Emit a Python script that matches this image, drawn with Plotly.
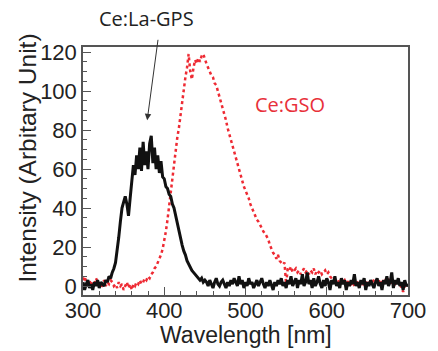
import plotly.graph_objects as go

wavelength = list(range(300, 701, 2))

la_gps = [
    2, -2, 1, 3, -1, 1, -2, 2, 0, 3,
    -1, 2, 1, 0, 3, 2, 5, 4, 7, 9,
    12, 18, 25, 33, 40, 43, 46, 42, 36, 45,
    55, 62, 57, 67, 60, 71, 59, 74, 62, 69,
    60, 73, 77, 63, 71, 60, 67, 58, 64, 56,
    55, 51, 50, 47, 46, 42, 40, 36, 33, 29,
    25, 21, 18, 16, 13, 11, 10, 8, 7, 6,
    5, 4, 3, 4, 2, 3,
    2, 0, 3, 1, -1, 2, 4, 1, 0, 2,
    3, 1, -1, 2, 0, 3, 1, 4, 2, 0,
    5, 1, 3, -1, 2, 0, 4, 1, 2, -1,
    1, 3, 0, 2, 4, 1, -1, 2, 0, 3,
    1, -2, 2, 0, 3, 1, 4, 0, 2, -1,
    3, 1, 5, 0, 2, 4, -1, 3, 1, 6,
    0, 2, 7, 1, 3, -1, 4, 0, 2, 5,
    1, -1, 3, 0, 4, 2, -2, 3, 1, 5,
    0, 2, -1, 4, 1, 3, -2, 2, 0, 3,
    1, 6, 0, 2, -1, 3, 1, 4, -2, 2,
    0, 3, 1, -1, 2, 4, 0, 2, -2, 3,
    1, 5, 0, 2, 7, -1, 3, 1, 4, 0,
    2, -2, 3, 0, 1,
]

gso = [
    3, 5, 2, 1, 3, 0, 2, 1, 4, 2,
    0, -1, 1, 3, 0, 2, 1, 3, 2, 0,
    1, -1, 2, 0, 1, -2, 0, 2, -1, 1,
    -2, 1, 0, 2, 1, 3, 1, 2, 4, 3,
    5, 4, 6, 7, 9, 10, 12, 14, 16, 19,
    23, 28, 34, 41, 49, 57, 64, 70, 76, 81,
    88, 94, 100, 107, 112, 119, 110, 106, 112, 116,
    114, 117, 115, 118, 119, 116, 114, 112, 110, 108,
    107, 104, 103, 100, 97, 95, 92, 88, 85, 81,
    78, 75, 72, 68, 65, 63, 60, 57, 54, 51,
    49, 47, 45, 42, 40, 38, 36, 34, 33, 31,
    30, 28, 27, 25, 24, 21, 19, 17, 16, 14,
    16, 13, 12, 11, 12, 1, 9, 8, 10, 7,
    8, 9, 7, 8, 6, 8, 9, 7, 8, 6,
    8, 7, 9, 6, 8, 7, 8, 6, 7, 8,
    6, 7, 5, 4, 3, 4, 3, 2, 4, 3,
    2, 3, 1, 2, 3, 1, 2, 0, 1, 2,
    3, 1, 2, 0, 1, 2, 3, 1, 2, 3,
    4, 2, 3, 1, 2, 3, 4, 2, 3, 1,
    2, 0, 1, 2, 3, 1, -1, -3, 0, 1,
    0,
]

x_ticks = [300, 400, 500, 600, 700]
y_ticks = [0, 20, 40, 60, 80, 100, 120]

fig = go.Figure()
fig.add_trace(go.Scatter(x=wavelength, y=gso, mode="lines",
                         line=dict(color="#ee2a33", width=2.5, dash="dot"),
                         showlegend=False))
fig.add_trace(go.Scatter(x=wavelength, y=la_gps, mode="lines",
                         line=dict(color="#111111", width=3),
                         showlegend=False))

axis_common = dict(showline=True, linecolor="#555555", linewidth=1.5, mirror=True,
                   ticks="inside", ticklen=8, tickwidth=1.2, tickcolor="#555555",
                   showgrid=False, zeroline=False,
                   tickfont=dict(family="Liberation Sans, Arial", size=22, color="#222222"))

fig.update_xaxes(range=[300, 700], tickvals=x_ticks, ticklabelstandoff=-5,
                 minor=dict(dtick=20, ticks="inside", ticklen=4, tickcolor="#555555", tickwidth=1.2),
                 **axis_common)
fig.update_yaxes(range=[-4.6, 122.6], tickvals=y_ticks,
                 minor=dict(dtick=5, ticks="inside", ticklen=4, tickcolor="#555555", tickwidth=1.2),
                 **axis_common)

fig.update_layout(
    width=438, height=351,
    margin=dict(l=83, r=21, t=47, b=56),
    plot_bgcolor="white", paper_bgcolor="white",
    annotations=[
        dict(text="Wavelength [nm]", xref="paper", yref="paper", x=0.5, y=-0.163,
             xanchor="center", yanchor="middle", showarrow=False,
             font=dict(family="Liberation Sans, Arial", size=23, color="#222222")),
        dict(text="Intensity (Arbitary Unit)", xref="paper", yref="paper", x=-0.17, y=0.553,
             xanchor="center", yanchor="middle", showarrow=False, textangle=-90,
             font=dict(family="Liberation Sans, Arial", size=24.5, color="#222222")),
        dict(text="Ce:La-GPS", xref="paper", yref="paper",
             x=(148.5 - 83) / 334, y=(295 - 18.5) / 248,
             xanchor="center", yanchor="middle", showarrow=False,
             font=dict(family="Open Sans", size=20, color="#222222")),
        dict(text="", x=379, y=85, xref="x", yref="y", showarrow=True,
             ax=11, ay=-82, axref="pixel", ayref="pixel",
             arrowhead=2, arrowsize=1.3, arrowwidth=1, arrowcolor="#333333"),
        dict(text="Ce:GSO", xref="paper", yref="paper",
             x=(296 - 83) / 334, y=(295 - 104) / 248,
             xanchor="center", yanchor="middle", showarrow=False,
             font=dict(family="Open Sans", size=20, color="#e8303a")),
    ],
)

fig.write_html("out.html")
